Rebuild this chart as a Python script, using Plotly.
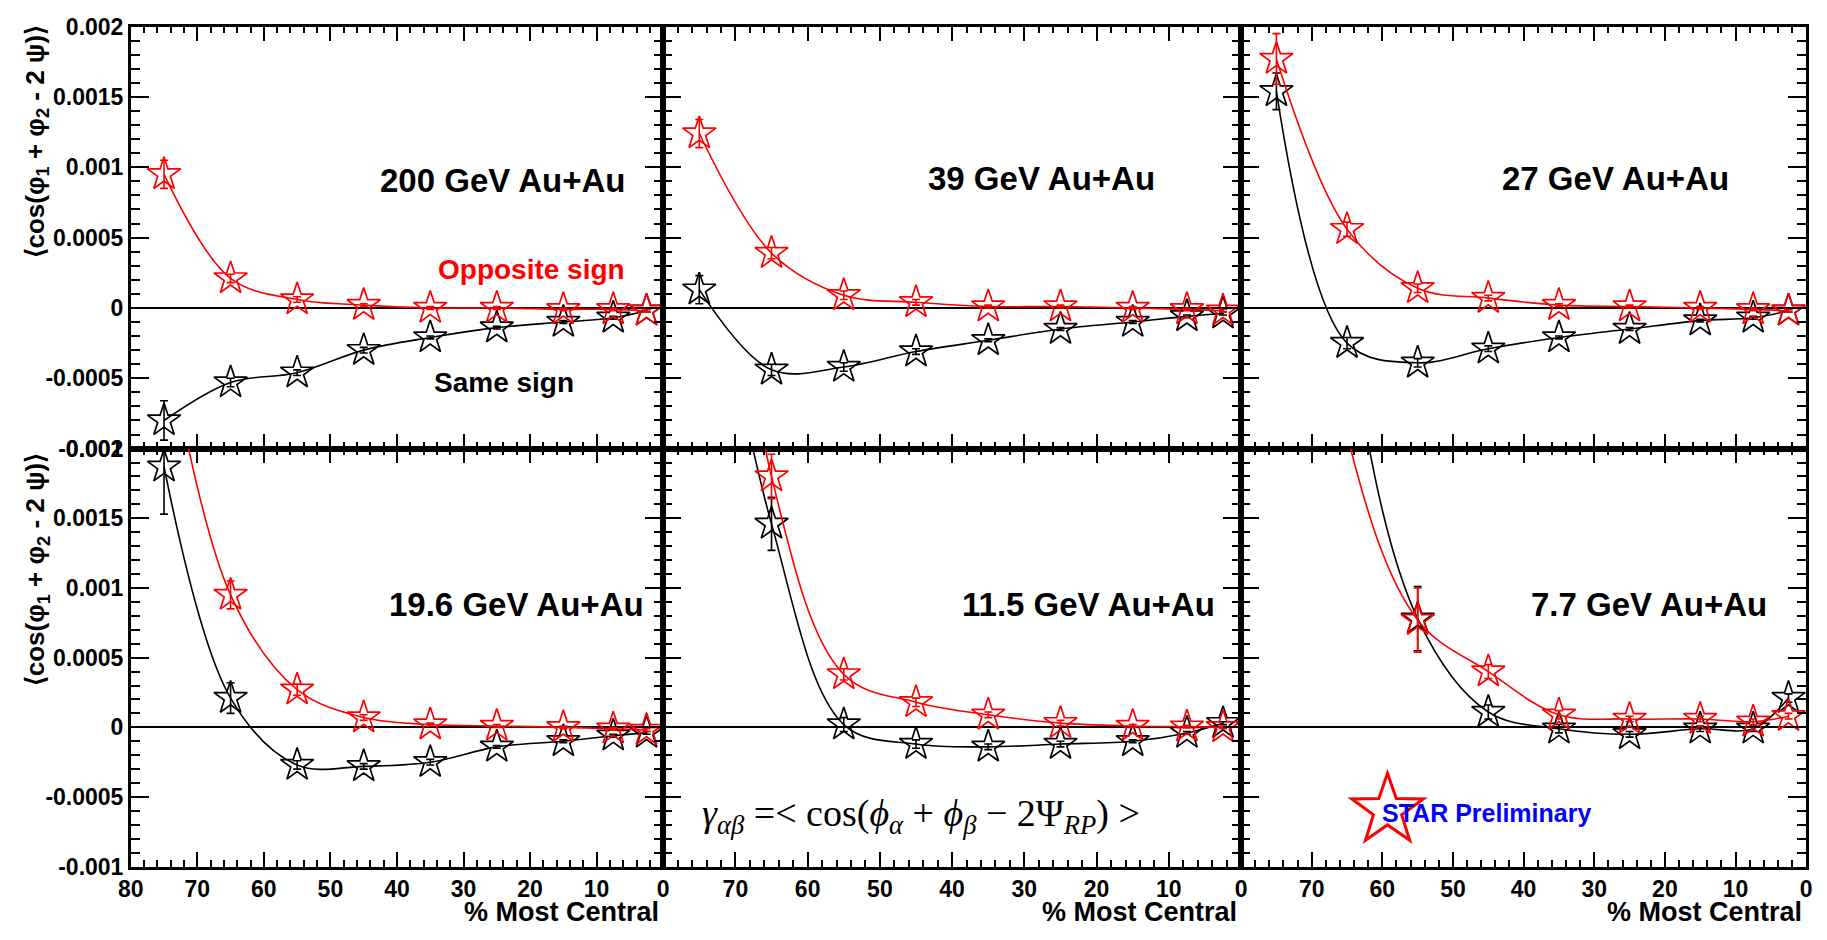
import math
import plotly.graph_objects as go

W, H = 1827, 940

# ---------------- data ----------------
centrality = [75, 65, 55, 45, 35, 25, 15, 7.5, 2.5]

energies = ["200", "39", "27", "19.6", "11.5", "7.7"]

os_200 = [0.00095, 0.00021, 0.00006, 0.00002, 0.0, 0.0, -0.00001, -0.00001, -0.00002]
os_200_err = [0.00010, 0.00003, 0.00002, 0.00001, 0.00001, 0.00001, 0.00001, 0.00001, 0.00001]
ss_200 = [-0.00080, -0.00053, -0.00046, -0.00030, -0.00021, -0.00014, -0.00010, -0.00007, -0.00002]
ss_200_err = [0.00014, 0.00003, 0.00002, 0.00002, 0.00001, 0.00001, 0.00001, 0.00001, 0.00001]

os_39 = [0.00124, 0.00039, 0.00009, 0.00004, 0.00001, 0.00001, 0.0, -0.00001, -0.00002]
os_39_err = [0.00010, 0.00004, 0.00003, 0.00002, 0.00001, 0.00001, 0.00001, 0.00001, 0.00001]
ss_39 = [0.00013, -0.00044, -0.00042, -0.00031, -0.00023, -0.00015, -0.00010, -0.00006, -0.00004]
ss_39_err = [0.00010, 0.00004, 0.00003, 0.00002, 0.00001, 0.00001, 0.00001, 0.00001, 0.00001]

os_27 = [0.00177, 0.00056, 0.00014, 0.00007, 0.00002, 0.00001, 0.0, -0.00001, -0.00002]
os_27_err = [0.00018, 0.00005, 0.00003, 0.00002, 0.00001, 0.00001, 0.00001, 0.00001, 0.00001]
ss_27 = [0.00154, -0.00025, -0.00039, -0.00029, -0.00021, -0.00015, -0.00009, -0.00007, -0.00002]
ss_27_err = [0.00013, 0.00004, 0.00003, 0.00002, 0.00001, 0.00001, 0.00001, 0.00001, 0.00001]

os_196 = [0.0029, 0.00095, 0.00027, 0.00007, 0.00002, 0.00001, 0.0, -0.00001, -0.00002]
os_196_err = [0.00030, 0.00010, 0.00004, 0.00002, 0.00001, 0.00001, 0.00001, 0.00001, 0.00001]
ss_196 = [0.00187, 0.00021, -0.00027, -0.00028, -0.00025, -0.00014, -0.00010, -0.00006, -0.00004]
ss_196_err = [0.00034, 0.00011, 0.00003, 0.00002, 0.00002, 0.00001, 0.00001, 0.00001, 0.00001]

os_115 = [0.0058, 0.00180, 0.00038, 0.00018, 0.00009, 0.00003, 0.00001, 0.000005, 0.0]
os_115_err = [0.0005, 0.00016, 0.00004, 0.00003, 0.00002, 0.00002, 0.00001, 0.00001, 0.00001]
ss_115 = [0.0040, 0.00146, 0.00002, -0.00012, -0.00014, -0.00012, -0.00010, -0.00004, 0.00003]
ss_115_err = [0.0005, 0.00019, 0.00005, 0.00003, 0.00002, 0.00002, 0.00001, 0.00001, 0.00001]

os_77 = [0.0060, 0.0021, 0.00077, 0.00040, 0.00009, 0.00006, 0.00006, 0.00004, 0.00008]
os_77_err = [0.0005, 0.00008, 0.00023, 0.00005, 0.00003, 0.00002, 0.00002, 0.00002, 0.00002]
ss_77 = [0.0080, 0.0029, 0.00078, 0.00011, -0.00001, -0.00005, -0.00001, -0.00001, 0.00021]
ss_77_err = [0.0005, 0.0002, 0.00023, 0.00005, 0.00003, 0.00002, 0.00002, 0.00002, 0.00003]

opposite = [os_200, os_39, os_27, os_196, os_115, os_77]
opposite_err = [os_200_err, os_39_err, os_27_err, os_196_err, os_115_err, os_77_err]
same = [ss_200, ss_39, ss_27, ss_196, ss_115, ss_77]
same_err = [ss_200_err, ss_39_err, ss_27_err, ss_196_err, ss_115_err, ss_77_err]

y_tick_vals = [-0.001, -0.0005, 0, 0.0005, 0.001, 0.0015, 0.002]
y_tick_text = ["-0.001", "-0.0005", "0", "0.0005", "0.001", "0.0015", "0.002"]
x_tick_vals_first = [80, 70, 60, 50, 40, 30, 20, 10, 0]
x_tick_vals_other = [70, 60, 50, 40, 30, 20, 10, 0]

# ---------------- layout helpers ----------------
def px(x):
    return x / W

def py(y):
    return 1 - y / H

col_px = [(119, 657), (657, 1241), (1241, 1812)]
row_px = [(14, 448), (448, 878)]

FONT = "Liberation Sans, Arial, Helvetica, sans-serif"
SERIF = "Liberation Serif, Times New Roman, serif"

fig = go.Figure()

for i in range(6):
    r, c = divmod(i, 3)
    xa = "x" if i == 0 else f"x{i+1}"
    ya = "y" if i == 0 else f"y{i+1}"
    for vals, errs, col in ((same[i], same_err[i], "black"), (opposite[i], opposite_err[i], "red")):
        fig.add_trace(go.Scatter(
            x=centrality, y=vals, xaxis=xa, yaxis=ya,
            mode="lines+markers",
            line=dict(color=col, width=1.6, shape="spline", smoothing=1.0),
            marker=dict(symbol="star-open", size=25, color=col, line=dict(width=1.7, color=col)),
            error_y=dict(type="data", array=errs, visible=True, color=col, thickness=1.6, width=4),
            showlegend=False, hoverinfo="x+y",
        ))

    xkey = "xaxis" if i == 0 else f"xaxis{i+1}"
    ykey = "yaxis" if i == 0 else f"yaxis{i+1}"
    x0, x1 = col_px[c]
    y0, y1 = row_px[r]
    xt = x_tick_vals_first if c == 0 else x_tick_vals_other
    fig.update_layout(**{
        xkey: dict(
            domain=[px(x0), px(x1)], anchor=ya, range=[80, 0],
            tickmode="array", tickvals=xt, ticktext=[str(v) for v in xt],
            showticklabels=(r == 1),
            ticks="inside", ticklen=15, tickwidth=2, tickcolor="black",
            minor=dict(ticks="inside", ticklen=7, tickwidth=1.5, tickcolor="black", dtick=2, tick0=0),
            showline=True, linecolor="black", linewidth=2.5, mirror="allticks",
            showgrid=False, zeroline=False,
            tickfont=dict(family=FONT, size=23, color="black", weight=700),
        ),
        ykey: dict(
            domain=[py(y1), py(y0)], anchor=xa, range=[-0.001, 0.002],
            tickmode="array", tickvals=y_tick_vals, ticktext=y_tick_text,
            showticklabels=(c == 0),
            ticks="inside", ticklen=18, tickwidth=2, tickcolor="black",
            minor=dict(ticks="inside", ticklen=9, tickwidth=1.5, tickcolor="black", dtick=0.0001, tick0=0),
            showline=True, linecolor="black", linewidth=2.5, mirror="allticks",
            showgrid=False, zeroline=True, zerolinecolor="black", zerolinewidth=1.5,
            tickfont=dict(family=FONT, size=23, color="black", weight=700),
        ),
    })

annotations = []

def add_text(text, x, y, xanchor="left", yanchor="middle", size=30, color="black",
             family=FONT, weight=700, angle=0):
    annotations.append(dict(
        text=text, x=px(x), y=py(y), xref="paper", yref="paper",
        xanchor=xanchor, yanchor=yanchor, showarrow=False, textangle=angle,
        font=dict(family=family, size=size, color=color, weight=weight),
    ))

energy_pos = [(620, 172), (1156, 170), (1736, 170), (640, 608), (1217, 608), (1774, 608)]
for e, (xx, yy) in zip(energies, energy_pos):
    add_text(f"{e} GeV Au+Au", xx, yy, xanchor="right", size=33)

add_text("Opposite sign", 620, 264, xanchor="right", size=28, color="red")
add_text("Same sign", 423, 380, xanchor="left", size=28)

for c in range(3):
    add_text("% Most Central", col_px[c][1] - 2, 925, xanchor="right", size=27)

ytitle = "\u27e8cos(\u03c6<sub>1</sub> + \u03c6<sub>2</sub> - 2 \u03c8)\u27e9"
add_text(ytitle, 24, 10, xanchor="center", yanchor="top", size=26, angle=-90)
add_text(ytitle, 24, 450, xanchor="center", yanchor="top", size=26, angle=-90)

formula = ("<i>\u03b3</i><sub><i>\u03b1\u03b2</i></sub> =&lt; cos(<i>\u03d5</i><sub><i>\u03b1</i></sub>"
           " + <i>\u03d5</i><sub><i>\u03b2</i></sub> \u2212 2\u03a8<sub><i>RP</i></sub>) &gt;")
add_text(formula, 694, 826, xanchor="left", size=38, family=SERIF, weight=400)

add_text("STAR Preliminary", 1381, 823, xanchor="left", size=25, color="#0000ff")

# STAR logo star outline (decoration)
cx, cy, R, rin = 1389, 820, 38, 15
pts = []
for k in range(10):
    ang = math.radians(90 + 36 * k)
    rad = R if k % 2 == 0 else rin
    pts.append((px(cx + rad * math.cos(ang)), py(cy - rad * math.sin(ang))))
path = "M " + " L ".join(f"{a:.5f},{b:.5f}" for a, b in pts) + " Z"

fig.update_layout(
    width=W, height=H,
    margin=dict(l=0, r=0, t=0, b=0),
    paper_bgcolor="white", plot_bgcolor="white",
    showlegend=False,
    annotations=annotations,
    shapes=[dict(type="path", path=path, xref="paper", yref="paper",
                 line=dict(color="red", width=3), fillcolor="white", layer="above")],
)

fig.write_html("out.html")
